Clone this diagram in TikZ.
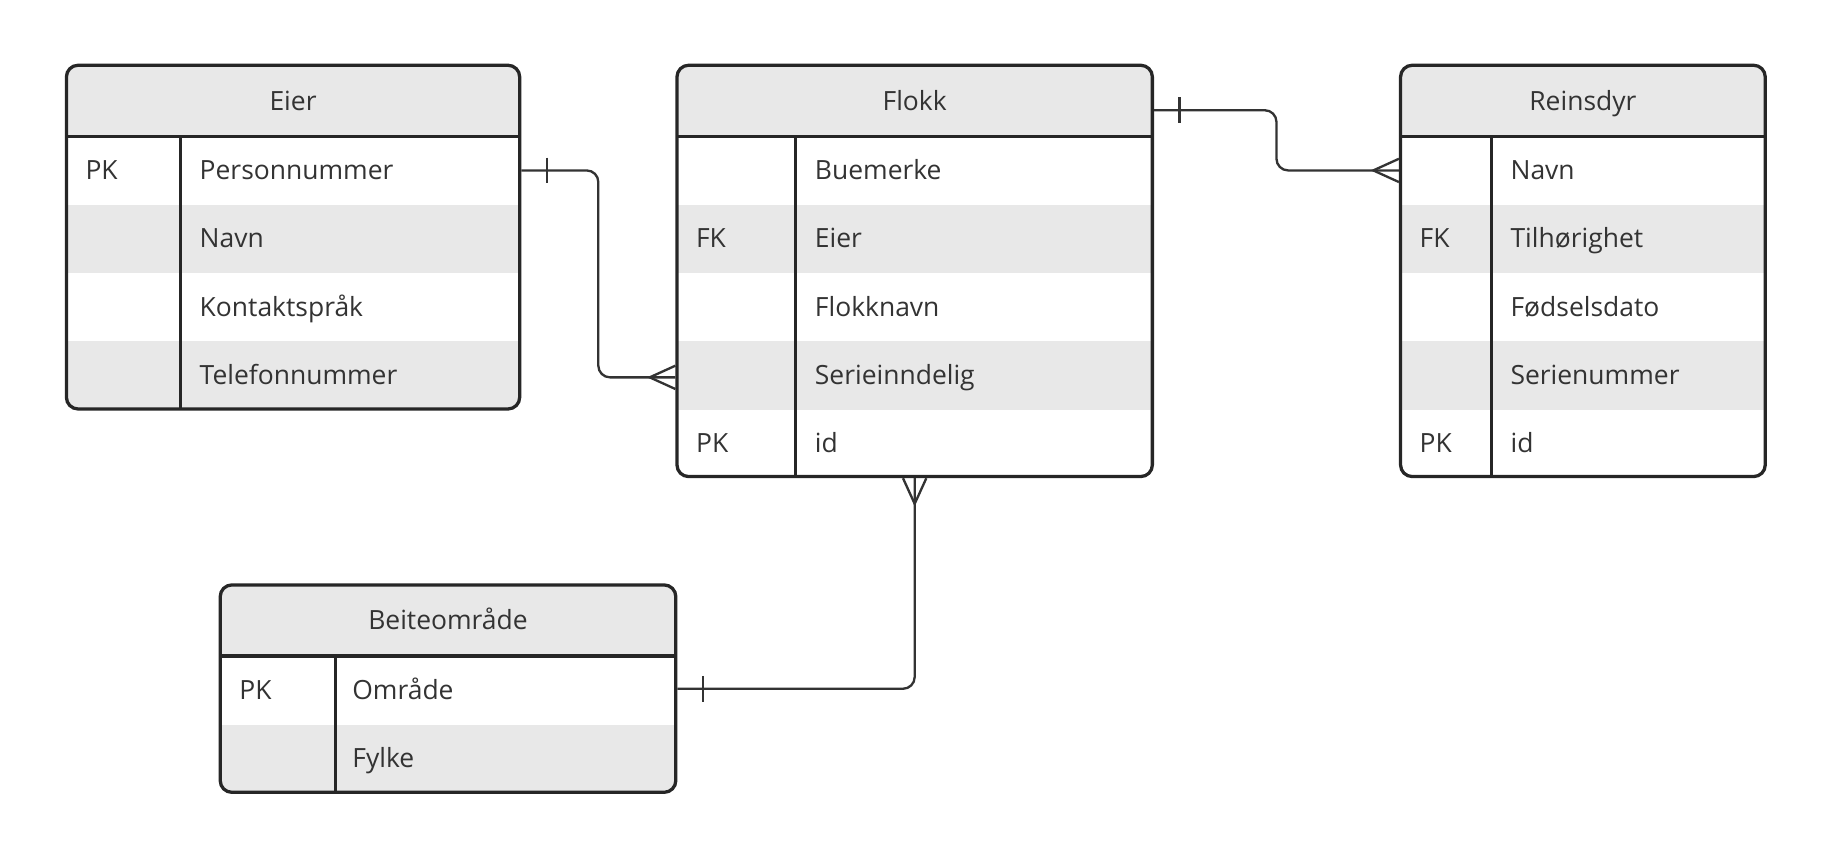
\documentclass[tikz,border=0pt]{standalone}
\usepackage{fontspec}
\setmainfont{Open Sans}
\usetikzlibrary{calc,fit}
\definecolor{inkGray}{HTML}{262626}
\definecolor{textGray}{HTML}{333333}
\definecolor{paleGray}{HTML}{E8E8E8}

\begin{document}
\begin{tikzpicture}
[x=0.5pt,y=-0.5pt,
  entityDecorate/.style={draw=inkGray,line width=1.4pt,rounded corners=5pt,inner sep=0pt},
  ruleDecorate/.style={draw=inkGray,line width=1.4pt},
  headDecorate/.style={anchor=base,inner sep=0pt,text=textGray},
  cellDecorate/.style={anchor=base west,inner sep=0pt,text=textGray},
  linkDecorate/.style={draw=textGray,line width=1pt},
  font=\fontsize{11.35}{13.6}\selectfont]
\useasboundingbox (0,0) rectangle (1568,734);

%% Eier
\begin{scope}
  \clip[rounded corners=5pt] (57,56) rectangle (446,351);
  \fill[paleGray] (57,56) rectangle (446,117);
  \foreach \y in {176,293}
    \fill[paleGray] (57,\y) rectangle (446,{\y+58.5});
\end{scope}
\node (eier) [headDecorate] at (251.5,94.5) {Eier};
\foreach \i/\k/\f in {1/PK/Personnummer, 2//Navn, 3//Kontaktspråk, 4//Telefonnummer}
{
  \node (eier-k\i) [cellDecorate] at (73,{117+58.5*\i-21.25}) {\k};
  \node (eier-f\i) [cellDecorate] at (171,{117+58.5*\i-21.25}) {\f};
}
\node (eierBox) [entityDecorate, fit={(57,56) (446,351)}] {};
\draw[ruleDecorate] (57,117) -- (446,117) (155,117) -- (155,351);

%% Flokk
\begin{scope}
  \clip[rounded corners=5pt] (581,56) rectangle (989,409);
  \fill[paleGray] (581,56) rectangle (989,117);
  \foreach \y in {176,293}
    \fill[paleGray] (581,\y) rectangle (989,{\y+58.5});
\end{scope}
\node (flokk) [headDecorate] at (785,94.5) {Flokk};
\foreach \i/\k/\f in {1//Buemerke, 2/FK/Eier, 3//Flokknavn, 4//Serieinndelig, 5/PK/id}
{
  \node (flokk-k\i) [cellDecorate] at (597,{117+58.5*\i-21.25}) {\k};
  \node (flokk-f\i) [cellDecorate] at (699,{117+58.5*\i-21.25}) {\f};
}
\node (flokkBox) [entityDecorate, fit={(581,56) (989,409)}] {};
\draw[ruleDecorate] (581,117) -- (989,117) (683,117) -- (683,409);

%% Reinsdyr
\begin{scope}
  \clip[rounded corners=5pt] (1202,56) rectangle (1515,409);
  \fill[paleGray] (1202,56) rectangle (1515,117);
  \foreach \y in {176,293}
    \fill[paleGray] (1202,\y) rectangle (1515,{\y+58.5});
\end{scope}
\node (rein) [headDecorate] at (1358.5,94.5) {Reinsdyr};
\foreach \i/\k/\f in {1//Navn, 2/FK/Tilhørighet, 3//Fødselsdato, 4//Serienummer, 5/PK/id}
{
  \node (rein-k\i) [cellDecorate] at (1218,{117+58.5*\i-21.25}) {\k};
  \node (rein-f\i) [cellDecorate] at (1296,{117+58.5*\i-21.25}) {\f};
}
\node (reinBox) [entityDecorate, fit={(1202,56) (1515,409)}] {};
\draw[ruleDecorate] (1202,117) -- (1515,117) (1280,117) -- (1280,409);

%% Beiteområde
\begin{scope}
  \clip[rounded corners=5pt] (189,502) rectangle (580,680);
  \fill[paleGray] (189,502) rectangle (580,563);
  \fill[paleGray] (189,622) rectangle (580,680);
\end{scope}
\node (beite) [headDecorate] at (384.5,540.5) {Beiteområde};
\foreach \i/\k/\f in {1/PK/Område, 2//Fylke}
{
  \node (beite-k\i) [cellDecorate] at (205,{563+58.5*\i-21.25}) {\k};
  \node (beite-f\i) [cellDecorate] at (302,{563+58.5*\i-21.25}) {\f};
}
\node (beiteBox) [entityDecorate, fit={(189,502) (580,680)}] {};
\draw[ruleDecorate] (189,563) -- (580,563) (288,563) -- (288,680);

%% relations
\coordinate (eierEnd) at (eierBox.east |- eier-f1);
\coordinate (flokkEierEnd) at (flokkBox.west |- flokk-f4);
\coordinate (flokkReinEnd) at ($(flokkBox.north east)+(0,40)$);
\coordinate (reinEnd) at (reinBox.west |- rein-f1);
\coordinate (beiteEnd) at (beiteBox.east |- beite-f1);

\draw[linkDecorate, rounded corners=5pt]
  (eierEnd) -| ($(eierEnd)!.5!(flokkEierEnd)$) |- (flokkEierEnd);
\draw[linkDecorate, rounded corners=5pt]
  (flokkReinEnd) -| ($(flokkReinEnd)!.5!(reinEnd)$) |- (reinEnd);
\draw[linkDecorate, rounded corners=5pt]
  (beiteEnd) -| (flokkBox.south);

%% one ends
\foreach \p in {eierEnd, flokkReinEnd, beiteEnd}
  \draw[linkDecorate] ($(\p)+(22,-11)$) -- ($(\p)+(22,11)$);
%% many ends
\foreach \p in {flokkEierEnd, reinEnd}
  \draw[linkDecorate] ($(\p)+(0,-10)$) -- ($(\p)+(-22,0)$) -- ($(\p)+(0,10)$);
\draw[linkDecorate] ($(flokkBox.south)+(-10,0)$) -- ($(flokkBox.south)+(0,22)$)
  -- ($(flokkBox.south)+(10,0)$);
\end{tikzpicture}
\end{document}
